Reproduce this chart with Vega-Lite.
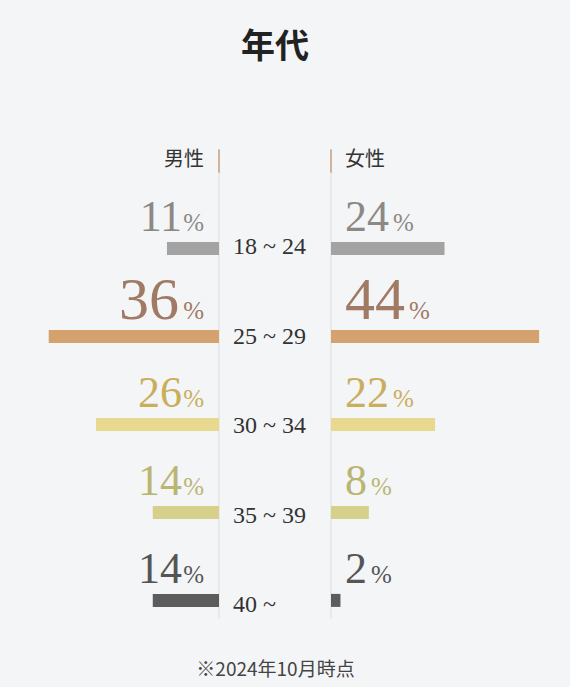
{
  "$schema": "https://vega.github.io/schema/vega-lite/v6.json",
  "background": "#f4f5f7",
  "padding": {"top": 31, "left": 0, "right": 0, "bottom": 8},
  "spacing": 0,
  "bounds": "flush",
  "title": {
    "text": "年代",
    "font": "Noto Sans CJK JP",
    "fontSize": 34,
    "fontWeight": "bold",
    "color": "#222222",
    "anchor": "middle",
    "dx": -10,
    "offset": 35
  },
  "config": {
    "view": {"stroke": null},
    "text": {"font": "Liberation Serif"}
  },
  "datasets": {
    "ages": [
      {"age": "18 ~ 24", "row": 1, "sex": "男性", "pct": 11},
      {"age": "25 ~ 29", "row": 2, "sex": "男性", "pct": 36},
      {"age": "30 ~ 34", "row": 3, "sex": "男性", "pct": 26},
      {"age": "35 ~ 39", "row": 4, "sex": "男性", "pct": 14},
      {"age": "40 ~", "row": 5, "sex": "男性", "pct": 14},
      {"age": "18 ~ 24", "row": 1, "sex": "女性", "pct": 24},
      {"age": "25 ~ 29", "row": 2, "sex": "女性", "pct": 44},
      {"age": "30 ~ 34", "row": 3, "sex": "女性", "pct": 22},
      {"age": "35 ~ 39", "row": 4, "sex": "女性", "pct": 8},
      {"age": "40 ~", "row": 5, "sex": "女性", "pct": 2}
    ],
    "one": [{}]
  },
  "resolve": {"scale": {"x": "independent", "y": "independent"}},
  "hconcat": [
    {
      "width": 219,
      "height": 560,
      "data": {"name": "ages"},
      "transform": [{"filter": "datum.sex === '男性'"}],
      "layer": [
        {
          "data": {"name": "one"},
          "mark": {"type": "rule", "color": "#dddddd", "strokeWidth": 1},
          "encoding": {
            "x": {"datum": 0, "type": "quantitative", "scale": {"domain": [0, 46.3], "reverse": true, "nice": false}, "axis": null},
            "y": {"datum": -0.127, "type": "quantitative", "scale": {"domain": [-0.6295, 5.6205], "reverse": true, "nice": false, "zero": false}, "axis": null},
            "y2": {"datum": 5.208}
          }
        },
        {
          "data": {"name": "one"},
          "mark": {"type": "rule", "color": "#c9a283", "strokeWidth": 1.5},
          "encoding": {
            "x": {"datum": 0, "type": "quantitative"},
            "y": {"datum": -0.127, "type": "quantitative"},
            "y2": {"datum": 0.141}
          }
        },
        {
          "data": {"values": [{"head": "男性"}]},
          "mark": {"type": "text", "align": "right", "baseline": "middle", "dx": -15, "font": "Noto Sans CJK JP", "fontSize": 20, "color": "#333333"},
          "encoding": {
            "x": {"datum": 0, "type": "quantitative"},
            "y": {"datum": 0, "type": "quantitative"},
            "text": {"field": "head"}
          }
        },
        {
          "mark": {"type": "bar", "height": 13},
          "encoding": {
            "x": {"field": "pct", "type": "quantitative"},
            "x2": {"datum": 0},
            "y": {"field": "row", "type": "quantitative"},
            "color": {
              "field": "age", "type": "nominal", "legend": null,
              "scale": {"domain": ["18 ~ 24", "25 ~ 29", "30 ~ 34", "35 ~ 39", "40 ~"], "range": ["#a3a3a3", "#d4a26e", "#e9d98f", "#d6d08a", "#5c5c5c"]}
            }
          }
        },
        {
          "mark": {"type": "text", "align": "right", "baseline": "alphabetic", "dy": -17, "dx": {"expr": "datum.age === '25 ~ 29' ? -40 : -37"}},
          "encoding": {
            "x": {"datum": 0, "type": "quantitative"},
            "y": {"field": "row", "type": "quantitative"},
            "text": {"field": "pct"},
            "size": {"condition": {"test": "datum.age === '25 ~ 29'", "value": 60}, "value": 44},
            "color": {
              "field": "age", "type": "nominal", "legend": null,
              "scale": {"domain": ["18 ~ 24", "25 ~ 29", "30 ~ 34", "35 ~ 39", "40 ~"], "range": ["#8c8985", "#a07a64", "#c9ae5c", "#bab573", "#555555"]}
            }
          }
        },
        {
          "mark": {"type": "text", "align": "right", "baseline": "alphabetic", "dy": -17, "dx": -15, "fontSize": 25, "text": "%"},
          "encoding": {
            "x": {"datum": 0, "type": "quantitative"},
            "y": {"field": "row", "type": "quantitative"},
            "color": {
              "field": "age", "type": "nominal", "legend": null,
              "scale": {"domain": ["18 ~ 24", "25 ~ 29", "30 ~ 34", "35 ~ 39", "40 ~"], "range": ["#8c8985", "#a07a64", "#c9ae5c", "#bab573", "#555555"]}
            }
          }
        }
      ],
      "resolve": {"scale": {"color": "independent"}}
    },
    {
      "width": 112,
      "height": 560,
      "data": {"name": "ages"},
      "transform": [{"filter": "datum.sex === '男性'"}],
      "mark": {"type": "text", "align": "left", "baseline": "alphabetic", "dx": 14, "dy": 8, "fontSize": 24, "color": "#333333"},
      "encoding": {
        "x": {
          "datum": 0, "type": "quantitative",
          "scale": {"domain": [0, 1]},
          "axis": {
            "title": "※2024年10月時点",
            "labels": false, "ticks": false, "domain": false, "grid": false,
            "titleFont": "Noto Sans CJK JP", "titleFontSize": 19, "titleFontWeight": "normal",
            "titleColor": "#444444", "titlePadding": 0
          }
        },
        "y": {"field": "row", "type": "quantitative", "scale": {"domain": [-0.6295, 5.6205], "reverse": true, "nice": false, "zero": false}, "axis": null},
        "text": {"field": "age"}
      }
    },
    {
      "width": 239,
      "height": 560,
      "data": {"name": "ages"},
      "transform": [{"filter": "datum.sex === '女性'"}],
      "layer": [
        {
          "data": {"name": "one"},
          "mark": {"type": "rule", "color": "#dddddd", "strokeWidth": 1},
          "encoding": {
            "x": {"datum": 0, "type": "quantitative", "scale": {"domain": [0, 50.53], "nice": false}, "axis": null},
            "y": {"datum": -0.127, "type": "quantitative", "scale": {"domain": [-0.6295, 5.6205], "reverse": true, "nice": false, "zero": false}, "axis": null},
            "y2": {"datum": 5.208}
          }
        },
        {
          "data": {"name": "one"},
          "mark": {"type": "rule", "color": "#c9a283", "strokeWidth": 1.5},
          "encoding": {
            "x": {"datum": 0, "type": "quantitative"},
            "y": {"datum": -0.127, "type": "quantitative"},
            "y2": {"datum": 0.141}
          }
        },
        {
          "data": {"values": [{"head": "女性"}]},
          "mark": {"type": "text", "align": "left", "baseline": "middle", "dx": 14, "font": "Noto Sans CJK JP", "fontSize": 20, "color": "#333333"},
          "encoding": {
            "x": {"datum": 0, "type": "quantitative"},
            "y": {"datum": 0, "type": "quantitative"},
            "text": {"field": "head"}
          }
        },
        {
          "mark": {"type": "bar", "height": 13},
          "encoding": {
            "x": {"field": "pct", "type": "quantitative"},
            "x2": {"datum": 0},
            "y": {"field": "row", "type": "quantitative"},
            "color": {
              "field": "age", "type": "nominal", "legend": null,
              "scale": {"domain": ["18 ~ 24", "25 ~ 29", "30 ~ 34", "35 ~ 39", "40 ~"], "range": ["#a3a3a3", "#d4a26e", "#e9d98f", "#d6d08a", "#5c5c5c"]}
            }
          }
        },
        {
          "mark": {"type": "text", "align": "left", "baseline": "alphabetic", "dy": -17, "dx": 14},
          "encoding": {
            "x": {"datum": 0, "type": "quantitative"},
            "y": {"field": "row", "type": "quantitative"},
            "text": {"field": "pct"},
            "size": {"condition": {"test": "datum.age === '25 ~ 29'", "value": 60}, "value": 44},
            "color": {
              "field": "age", "type": "nominal", "legend": null,
              "scale": {"domain": ["18 ~ 24", "25 ~ 29", "30 ~ 34", "35 ~ 39", "40 ~"], "range": ["#8c8985", "#a07a64", "#c9ae5c", "#bab573", "#555555"]}
            }
          }
        },
        {
          "mark": {"type": "text", "align": "left", "baseline": "alphabetic", "dy": -17, "fontSize": 25, "text": "%",
            "dx": {"expr": "18 + length(toString(datum.pct)) * (datum.age === '25 ~ 29' ? 30 : 22)"}},
          "encoding": {
            "x": {"datum": 0, "type": "quantitative"},
            "y": {"field": "row", "type": "quantitative"},
            "color": {
              "field": "age", "type": "nominal", "legend": null,
              "scale": {"domain": ["18 ~ 24", "25 ~ 29", "30 ~ 34", "35 ~ 39", "40 ~"], "range": ["#8c8985", "#a07a64", "#c9ae5c", "#bab573", "#555555"]}
            }
          }
        }
      ],
      "resolve": {"scale": {"color": "independent"}}
    }
  ]
}
